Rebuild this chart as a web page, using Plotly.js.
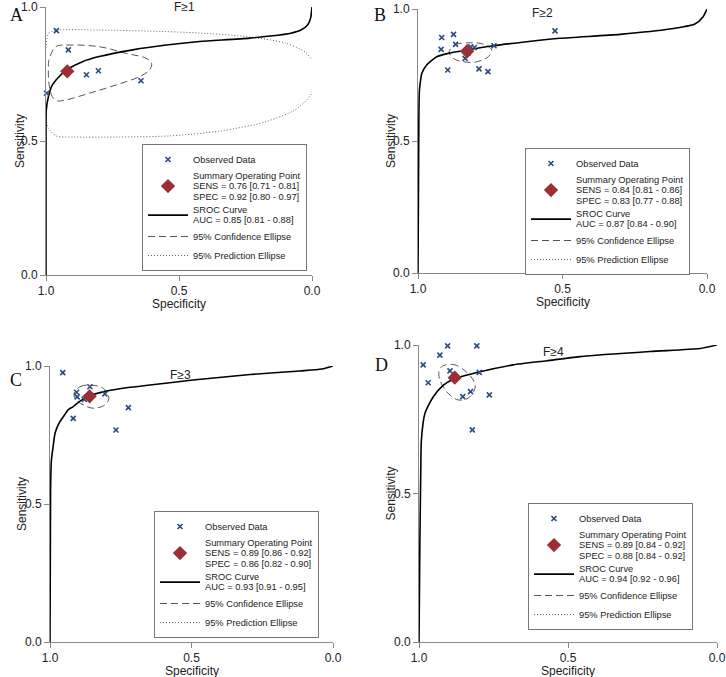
<!DOCTYPE html>
<html>
<head>
<meta charset="utf-8">
<script src="https://cdn.plot.ly/plotly-3.0.1.min.js"></script>
<style>
  html, body { margin: 0; padding: 0; background: #fff; }
  #chart { width: 726px; height: 677px; }
</style>
</head>
<body>
<div id="chart"></div>
<script>
// ---- values ----
const panelTitles = ['F≥1', 'F≥2', 'F≥3', 'F≥4'];
const panelLetters = ['A', 'B', 'C', 'D'];

// observed studies (specificity, sensitivity)
const obsSpecA = [0.961, 0.916, 0.848, 0.803, 0.643, 0.998];
const obsSensA = [0.912, 0.840, 0.747, 0.762, 0.725, 0.678];
const obsSpecB = [0.918, 0.877, 0.920, 0.870, 0.897, 0.789, 0.758, 0.837, 0.818, 0.805, 0.737, 0.526, 0.827];
const obsSensB = [0.892, 0.904, 0.847, 0.866, 0.769, 0.773, 0.763, 0.813, 0.857, 0.854, 0.861, 0.917, 0.833];
const obsSpecC = [0.955, 0.859, 0.906, 0.904, 0.879, 0.806, 0.723, 0.918, 0.767];
const obsSensC = [0.976, 0.925, 0.905, 0.888, 0.879, 0.899, 0.849, 0.810, 0.768];
const obsSpecD = [0.904, 0.806, 0.930, 0.986, 0.896, 0.798, 0.969, 0.827, 0.853, 0.764, 0.821];
const obsSensD = [0.997, 0.997, 0.966, 0.933, 0.913, 0.908, 0.873, 0.843, 0.826, 0.832, 0.714];

// summary operating points
const sumSpec = [0.92, 0.83, 0.86, 0.88];
const sumSens = [0.76, 0.84, 0.89, 0.89];

// SROC curves
const srocSpecA = [1.0, 1.0, 0.999, 0.991, 0.976, 0.951, 0.92, 0.863, 0.80, 0.674, 0.548, 0.423, 0.234, 0.08, 0.04, 0.015, 0.005, 0.0];
const srocSensA = [0.0, 0.53, 0.616, 0.665, 0.709, 0.74, 0.767, 0.796, 0.815, 0.84, 0.858, 0.871, 0.884, 0.902, 0.915, 0.935, 0.96, 1.0];
const srocSpecB = [1.0, 0.997, 0.995, 0.991, 0.987, 0.970, 0.935, 0.895, 0.831, 0.739, 0.624, 0.509, 0.301, 0.128, 0.042, 0.014, 0.0];
const srocSensB = [0.0, 0.591, 0.693, 0.731, 0.756, 0.788, 0.819, 0.832, 0.845, 0.861, 0.876, 0.889, 0.904, 0.924, 0.943, 0.970, 1.0];
const srocSpecC = [1.0, 0.998, 0.995, 0.989, 0.982, 0.968, 0.953, 0.936, 0.918, 0.894, 0.862, 0.800, 0.724, 0.647, 0.495, 0.293, 0.117, 0.039, 0.0];
const srocSensC = [0.0, 0.551, 0.659, 0.708, 0.757, 0.793, 0.816, 0.841, 0.853, 0.873, 0.891, 0.909, 0.922, 0.931, 0.949, 0.969, 0.982, 0.989, 1.0];
const srocSpecD = [1.0, 0.997, 0.994, 0.992, 0.980, 0.952, 0.918, 0.885, 0.795, 0.684, 0.571, 0.460, 0.225, 0.057, 0.0];
const srocSensD = [0.0, 0.343, 0.579, 0.680, 0.770, 0.826, 0.865, 0.885, 0.910, 0.933, 0.947, 0.961, 0.978, 0.988, 1.0];

// 95% confidence ellipses (outline points)
const ciSpecA = [0.989, 0.963, 0.913, 0.800, 0.699, 0.624, 0.603, 0.611, 0.649, 0.737, 0.838, 0.926, 0.957, 0.976, 0.989, 0.991, 0.989];
const ciSensA = [0.802, 0.852, 0.858, 0.852, 0.827, 0.809, 0.790, 0.765, 0.740, 0.709, 0.678, 0.653, 0.650, 0.665, 0.715, 0.777, 0.802];
const ciSpecB = [0.892, 0.872, 0.820, 0.774, 0.745, 0.757, 0.797, 0.843, 0.878, 0.892];
const ciSensB = [0.838, 0.864, 0.872, 0.867, 0.845, 0.819, 0.800, 0.800, 0.813, 0.838];
const ciSpecC = [0.915, 0.894, 0.859, 0.812, 0.792, 0.806, 0.847, 0.882, 0.908, 0.915];
const ciSensC = [0.901, 0.925, 0.931, 0.919, 0.883, 0.859, 0.847, 0.859, 0.877, 0.901];
const ciSpecD = [0.924, 0.890, 0.857, 0.818, 0.812, 0.835, 0.868, 0.902, 0.930, 0.933, 0.924];
const ciSensD = [0.927, 0.935, 0.922, 0.882, 0.854, 0.821, 0.815, 0.837, 0.882, 0.910, 0.927];

// 95% prediction ellipse (only drawn inside panel A; the others list it in the legend only)
const piSpecA = [1.0, 0.989, 0.951, 0.800, 0.611, 0.423, 0.234, 0.102, 0.026, -0.011, -0.015, 0.008, 0.064, 0.177, 0.347, 0.536, 0.725, 0.894, 0.962, 0.992, 1.0, 1.004, 1.0];
const piSensA = [0.858, 0.903, 0.914, 0.914, 0.910, 0.903, 0.888, 0.866, 0.832, 0.784, 0.728, 0.668, 0.616, 0.571, 0.537, 0.519, 0.515, 0.515, 0.519, 0.549, 0.597, 0.728, 0.858];

// legend texts
const sensText = ['0.76 [0.71 - 0.81]', '0.84 [0.81 - 0.86]', '0.89 [0.86 - 0.92]', '0.89 [0.84 - 0.92]'];
const specText = ['0.92 [0.80 - 0.97]', '0.83 [0.77 - 0.88]', '0.86 [0.82 - 0.90]', '0.88 [0.84 - 0.92]'];
const aucText = ['0.85 [0.81 - 0.88]', '0.87 [0.84 - 0.90]', '0.93 [0.91 - 0.95]', '0.94 [0.92 - 0.96]'];

const obsSpec = [obsSpecA, obsSpecB, obsSpecC, obsSpecD];
const obsSens = [obsSensA, obsSensB, obsSensC, obsSensD];
const srocSpec = [srocSpecA, srocSpecB, srocSpecC, srocSpecD];
const srocSens = [srocSensA, srocSensB, srocSensC, srocSensD];
const ciSpec = [ciSpecA, ciSpecB, ciSpecC, ciSpecD];
const ciSens = [ciSensA, ciSensB, ciSensC, ciSensD];
const piSpec = [piSpecA, [null], [null], [null]];
const piSens = [piSensA, [null], [null], [null]];

// ---- page geometry (pixels in the 726x677 page) ----
const W = 726, H = 677;
const boxes = [
  { l: 46, r: 312, t: 7, b: 275, title: [0.52, 1.0], letter: [8, 15], ytl: 20, leg: [142, 144] },
  { l: 418, r: 707, t: 9, b: 273, title: [0.43, 0.985], letter: [372, 15], ytl: 391, leg: [525, 148] },
  { l: 50, r: 333, t: 366, b: 642, title: [0.46, 0.967], letter: [8, 380], ytl: 22, leg: [154, 511] },
  { l: 419, r: 717, t: 345, b: 642, title: [0.45, 0.976], letter: [373, 365], ytl: 390, leg: [528, 503] }
];

const font = 'Liberation Sans, Arial, sans-serif';
// legend line pitch comes from the legend font size; the glyphs are drawn a bit larger
const legendSpan = s => '<span style="font-size:9.3px">' + s + '</span>';
const data = [];
const layout = {
  width: W, height: H,
  margin: { l: 0, r: 0, t: 0, b: 0 },
  paper_bgcolor: '#fff', plot_bgcolor: '#fff',
  font: { family: font, color: '#222' },
  annotations: []
};

boxes.forEach((b, i) => {
  const n = i === 0 ? '' : String(i + 1);
  const xa = 'x' + n, ya = 'y' + n;
  const leg = 'legend' + n;

  layout['xaxis' + n] = {
    domain: [b.l / W, b.r / W], anchor: ya,
    range: [1, 0], autorange: false,
    tickvals: [1, 0.5, 0], tickformat: '.1f',
    showgrid: false, zeroline: false, showline: true,
    linecolor: '#888', linewidth: 1, ticks: 'outside', ticklen: 5, tickcolor: '#888',
    tickfont: { size: 12, color: '#222' }
  };
  layout['yaxis' + n] = {
    domain: [1 - b.b / H, 1 - b.t / H], anchor: xa,
    range: [0, 1], autorange: false,
    tickvals: [0, 0.5, 1], tickformat: '.1f',
    showgrid: false, zeroline: false, showline: true,
    linecolor: '#888', linewidth: 1, ticks: 'outside', ticklen: 5, tickcolor: '#888',
    tickfont: { size: 12, color: '#222' }
  };
  layout[leg] = {
    x: b.leg[0] / W, y: 1 - b.leg[1] / H, xanchor: 'left', yanchor: 'top',
    bgcolor: '#fff', bordercolor: '#777', borderwidth: 1,
    font: { family: font, size: 8, color: '#222' },
    itemwidth: 40, tracegroupgap: 0, traceorder: 'normal'
  };

  // axis titles
  layout.annotations.push({
    text: 'Specificity', xref: xa + ' domain', yref: 'paper',
    x: 0.5, y: 1 - (b.b + 29) / H, yanchor: 'middle', showarrow: false,
    font: { family: font, size: 12, color: '#222' }
  });
  layout.annotations.push({
    text: 'Sensitivity', xref: 'paper', yref: ya + ' domain',
    x: b.ytl / W, y: 0.5, xanchor: 'center', yanchor: 'middle', textangle: -90, showarrow: false,
    font: { family: font, size: 12, color: '#222' }
  });
  // panel title and letter
  layout.annotations.push({
    text: panelTitles[i], xref: xa + ' domain', yref: ya + ' domain',
    x: b.title[0], y: b.title[1], yanchor: 'middle', showarrow: false,
    font: { family: font, size: 12, color: '#222' }
  });
  layout.annotations.push({
    text: panelLetters[i], xref: 'paper', yref: 'paper',
    x: b.letter[0] / W, y: 1 - b.letter[1] / H, xanchor: 'left', yanchor: 'middle',
    showarrow: false,
    font: { family: 'Liberation Serif, Times New Roman, serif', size: 18, color: '#111' }
  });

  data.push({
    x: piSpec[i], y: piSens[i], xaxis: xa, yaxis: ya, legend: leg, legendrank: 5,
    type: 'scatter', mode: 'lines', name: legendSpan('95% Prediction Ellipse'),
    line: { color: '#666', width: 1, dash: '1px,2px', shape: 'spline', smoothing: 0.8 },
    hoverinfo: 'skip'
  });
  data.push({
    x: ciSpec[i], y: ciSens[i], xaxis: xa, yaxis: ya, legend: leg, legendrank: 4,
    type: 'scatter', mode: 'lines', name: legendSpan('95% Confidence Ellipse'),
    line: { color: '#555', width: 1, dash: '7px,4px', shape: 'spline', smoothing: 1 },
    hoverinfo: 'skip'
  });
  data.push({
    x: srocSpec[i], y: srocSens[i], xaxis: xa, yaxis: ya, legend: leg, legendrank: 3,
    type: 'scatter', mode: 'lines', name: legendSpan('SROC Curve<br>AUC = ' + aucText[i]),
    line: { color: '#000', width: 1.6, shape: 'spline', smoothing: 0.6 }
  });
  data.push({
    x: obsSpec[i], y: obsSens[i], xaxis: xa, yaxis: ya, legend: leg, legendrank: 1,
    type: 'scatter', mode: 'markers', name: legendSpan('Observed Data'), cliponaxis: false,
    marker: { symbol: 'x-thin-open', size: 5, line: { color: '#2b4a7d', width: 1.6 }, color: '#2b4a7d' }
  });
  data.push({
    x: [sumSpec[i]], y: [sumSens[i]], xaxis: xa, yaxis: ya, legend: leg, legendrank: 2,
    type: 'scatter', mode: 'markers', cliponaxis: false,
    name: legendSpan('Summary Operating Point<br>SENS = ' + sensText[i] + '<br>SPEC = ' + specText[i]),
    marker: { symbol: 'diamond', size: 11, color: '#9b2f35' }
  });
});

Plotly.newPlot('chart', data, layout, { staticPlot: true });
</script>
</body>
</html>
